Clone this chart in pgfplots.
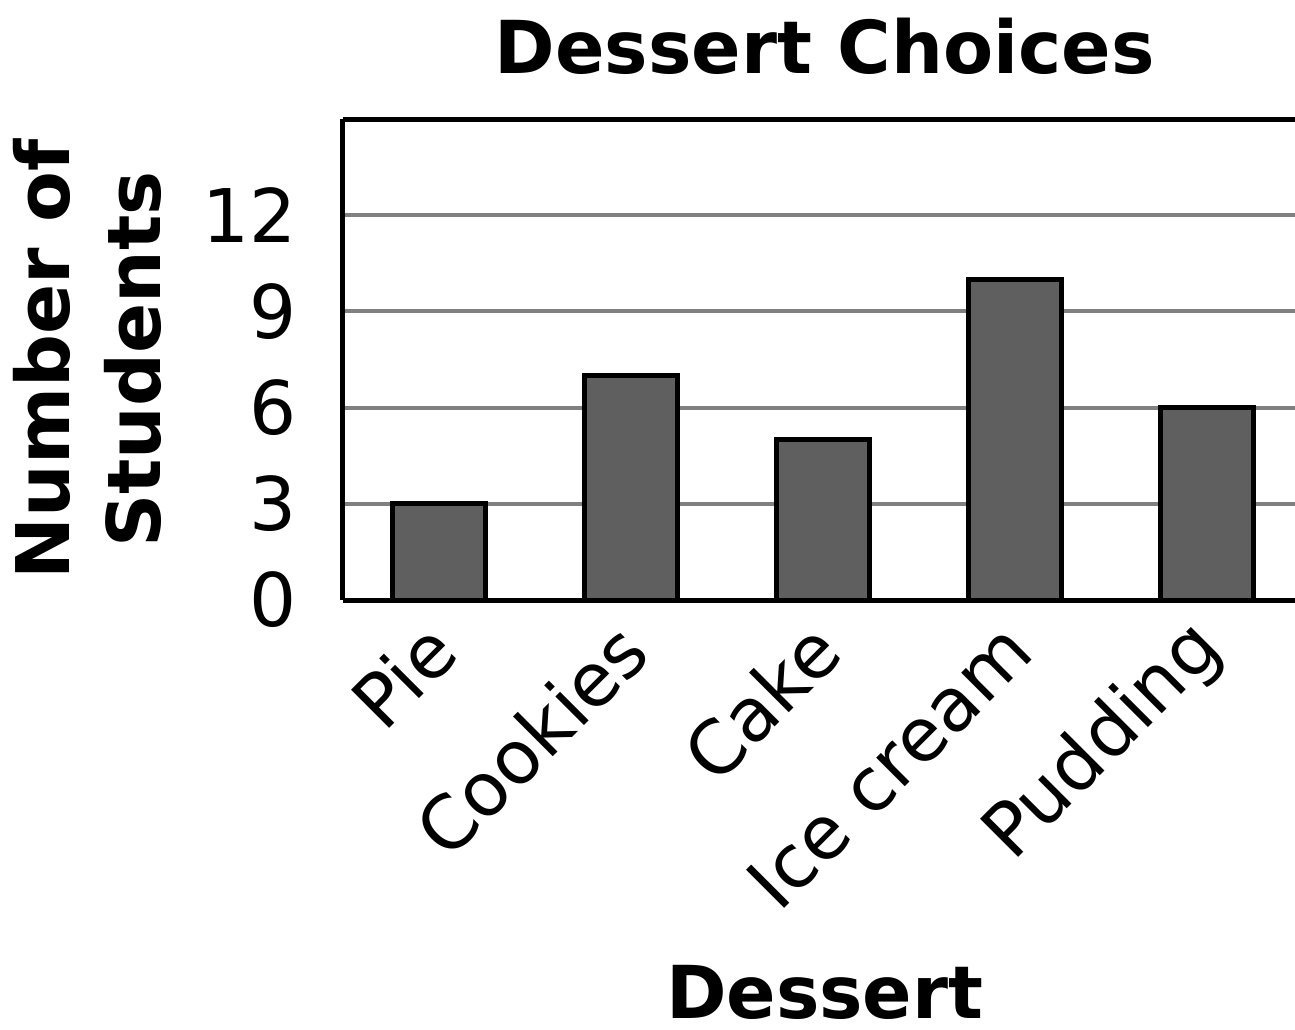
\documentclass[border=0pt]{standalone}
\usepackage{pgfplots}
\pgfplotsset{compat=1.18}
\usepackage{fontspec}
\setmainfont{DejaVu Sans}
\definecolor{barfill}{HTML}{5F5F5F}
\definecolor{gridgray}{HTML}{808080}
\begin{document}
\begin{tikzpicture}
\begin{axis}[
  at={(0,0)}, anchor=south west,
  scale only axis,
  width=476pt, height=240.5pt,
  xmin=-0.5, xmax=4.458,
  ymin=0, ymax=15,
  ytick={0,3,6,9,12},
  xtick={0,1,2,3,4},
  xticklabels={Pie,Cookies,Cake,Ice cream,Pudding},
  axis x line=box,
  axis y line=left,
  axis line style={line width=2.5pt, black},
  y axis line style={-},
  major tick length=0pt,
  ymajorgrids,
  grid style={draw=gridgray, line width=2pt},
  /pgf/number format/assume math mode=true,
  yticklabel style={font=\fontsize{37}{44}\selectfont, inner sep=0pt, anchor=east, xshift=-23pt},
  xticklabel style={font=\fontsize{37}{44}\selectfont, inner sep=0pt, xshift=1.5pt, yshift=-18.5pt, rotate=45, anchor=east},
  title={Dessert Choices},
  title style={font=\fontsize{36.5}{44}\selectfont\bfseries, at={(axis description cs:0.506,1)}, anchor=base, yshift=17pt, inner sep=0pt},
  xlabel={Dessert},
  xlabel style={font=\fontsize{36.5}{44}\selectfont\bfseries, at={(axis description cs:0.506,0)}, anchor=base, yshift=-209pt, inner sep=0pt},
  ylabel={Number of\\Students},
  ylabel style={font=\fontsize{37}{45.5}\selectfont\bfseries, align=center, at={(axis description cs:-0.268,0.5)}, anchor=center, inner sep=0pt, rotate=0},
]
\addplot[ybar, bar width=46.5pt, fill=barfill, draw=black, line width=2.5pt]
  coordinates {(0,3) (1,7) (2,5) (3,10) (4,6)};
\end{axis}
\pgfresetboundingbox
\path (-171.5pt,-214.5pt) rectangle (476pt,300pt);
\end{tikzpicture}
\end{document}
